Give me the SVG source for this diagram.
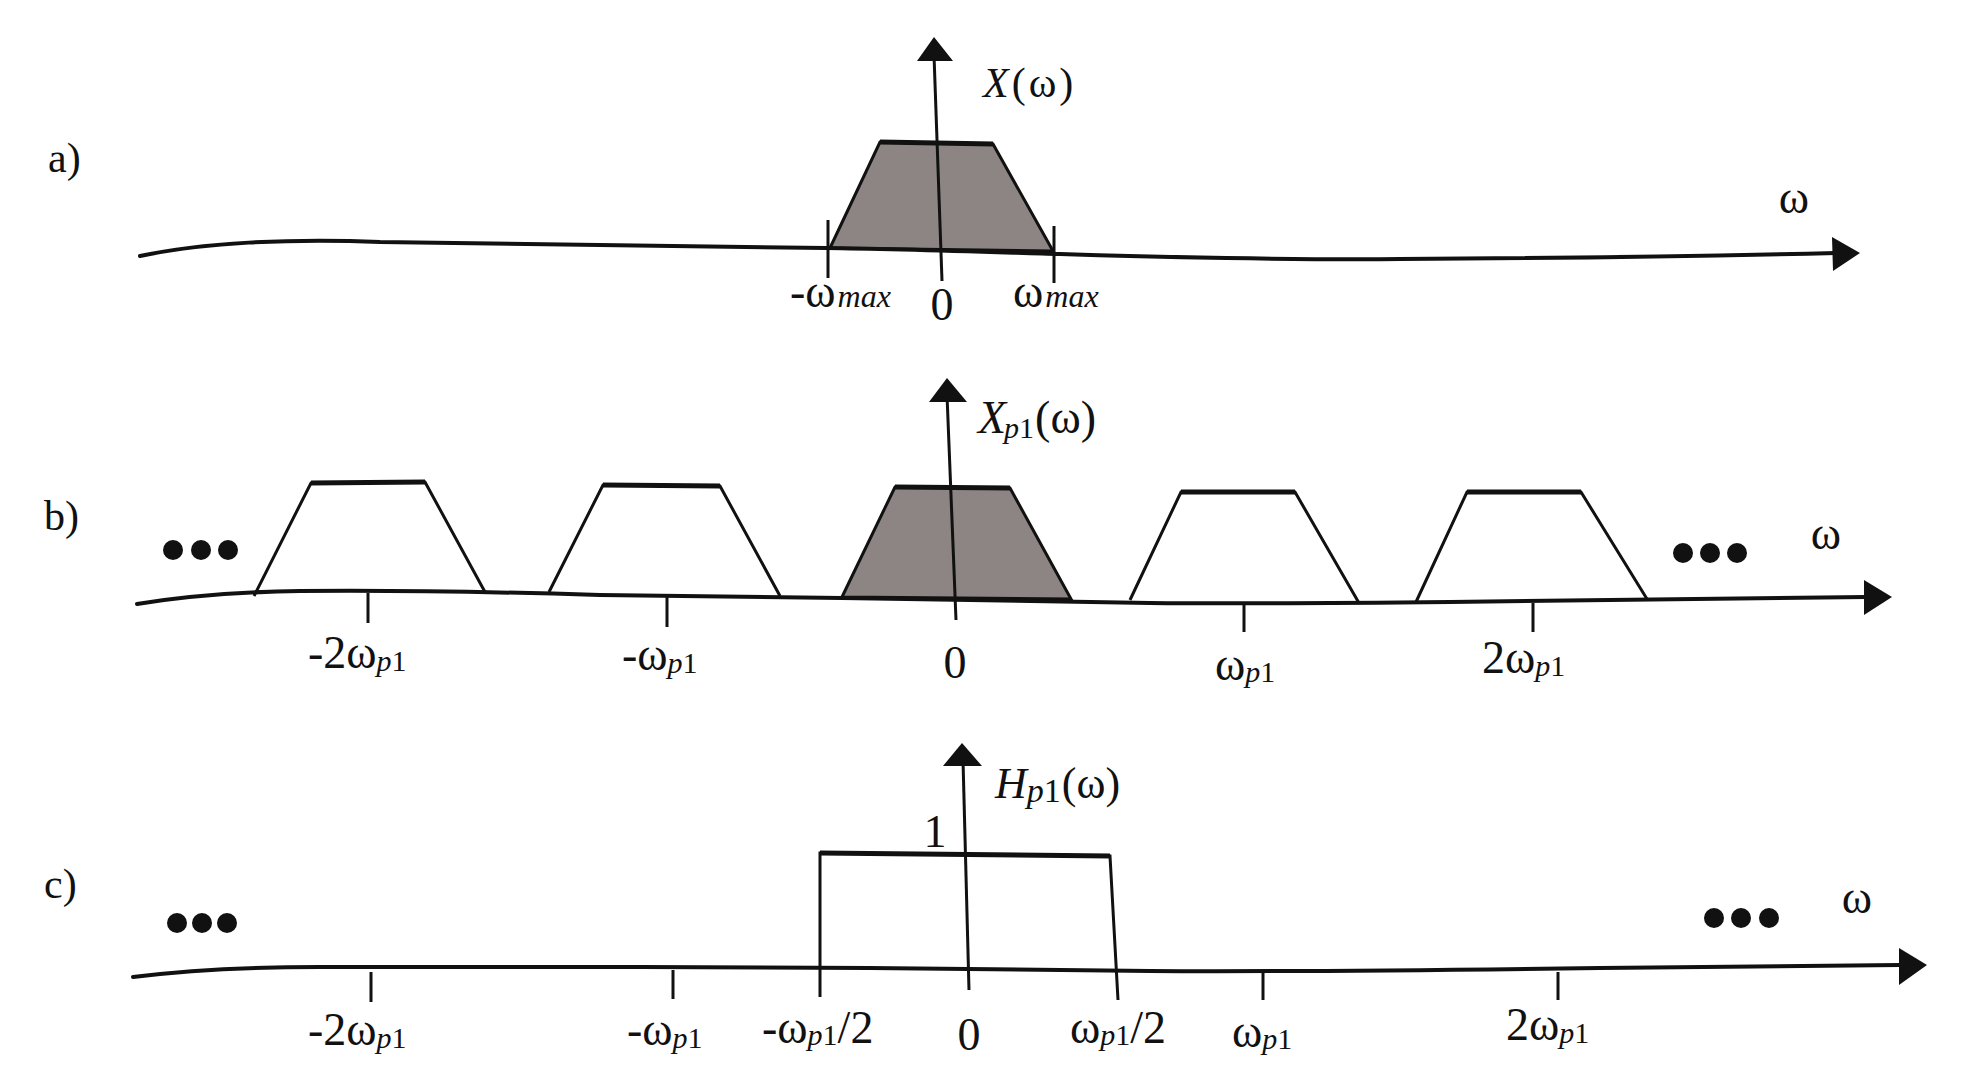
<svg xmlns="http://www.w3.org/2000/svg" width="1988" height="1076" viewBox="0 0 1988 1076">
<style>
  .ax{fill:none;stroke:#111;stroke-width:4;stroke-linecap:round;stroke-linejoin:round}
  .vx{fill:none;stroke:#111;stroke-width:3}
  .tk{fill:none;stroke:#111;stroke-width:3}
  .tr{fill:none;stroke:#111;stroke-width:3;stroke-linejoin:miter}
  .top{fill:none;stroke:#111;stroke-width:5}
  .sh{fill:#8d8583;stroke:#111;stroke-width:3}
  .ah{fill:#111}
  .dot{fill:#111}
  text{font-family:"Liberation Serif","Times New Roman",serif;fill:#111}
  .lb{font-size:46px}
  .pn{font-size:42px}
  .it{font-style:italic}
  .s{font-size:30px}
  .sm{font-size:32px;font-style:italic}
</style>

<!-- ===== Panel a ===== -->
<g id="panel-a">
  <text class="pn" x="48" y="172">a)</text>
  <polygon class="sh" points="830,248 880,142 993,144 1053,251"/>
  <line class="top" x1="880" y1="142" x2="993" y2="144"/>
  <line class="tk" x1="828" y1="220" x2="828" y2="278"/>
  <line class="tk" x1="1054" y1="226" x2="1054" y2="283"/>
  <text x="983" y="97" font-size="42" letter-spacing="3"><tspan class="it">X</tspan>(ω)</text>
  <text class="lb" x="790" y="307">-ω<tspan class="sm" dx="2">max</tspan></text>
  <text class="lb" x="942" y="320" text-anchor="middle">0</text>
  <text class="lb" x="1013" y="307">ω<tspan class="sm" dx="2">max</tspan></text>
  <text class="lb" x="1794" y="213" text-anchor="middle" font-size="40">ω</text>
</g>

<!-- ===== Panel b ===== -->
<g id="panel-b">
  <text class="pn" x="44" y="530">b)</text>
  <polyline class="tr" points="254,596 311,483 425,482 485,592"/>
  <line class="top" x1="311" y1="483" x2="425" y2="482"/>
  <polyline class="tr" points="549,592 603,485 720,486 780,596"/>
  <line class="top" x1="603" y1="485" x2="720" y2="486"/>
  <polygon class="sh" points="842,597 895,487 1010,488 1071,599"/>
  <line class="top" x1="895" y1="487" x2="1010" y2="488"/>
  <polyline class="tr" points="1130,600 1181,492 1295,492 1359,603"/>
  <line class="top" x1="1181" y1="492" x2="1295" y2="492"/>
  <polyline class="tr" points="1416,602 1467,492 1581,492 1647,599"/>
  <line class="top" x1="1467" y1="492" x2="1581" y2="492"/>
  <line class="tk" x1="368" y1="593" x2="368" y2="623"/>
  <line class="tk" x1="667" y1="597" x2="667" y2="627"/>
  <line class="tk" x1="1244" y1="603" x2="1244" y2="632"/>
  <line class="tk" x1="1533" y1="603" x2="1533" y2="632"/>
  <circle class="dot" cx="173" cy="550" r="10"/>
  <circle class="dot" cx="201" cy="550" r="10"/>
  <circle class="dot" cx="228" cy="550" r="10"/>
  <circle class="dot" cx="1683" cy="553" r="10"/>
  <circle class="dot" cx="1710" cy="553" r="10"/>
  <circle class="dot" cx="1737" cy="553" r="10"/>
  <text class="lb" x="978" y="433"><tspan class="it">X</tspan><tspan class="s it" dx="-2" dy="5">p</tspan><tspan class="s">1</tspan><tspan dy="-5" dx="1">(ω)</tspan></text>
  <text class="lb" x="1826" y="549" text-anchor="middle" font-size="40">ω</text>
  <text class="lb" y="668"><tspan x="308">-2ω</tspan><tspan class="s it" dy="3">p</tspan><tspan class="s">1</tspan></text>
  <text class="lb" y="670"><tspan x="622">-ω</tspan><tspan class="s it" dy="3">p</tspan><tspan class="s">1</tspan></text>
  <text class="lb" x="955" y="678" text-anchor="middle">0</text>
  <text class="lb" y="680"><tspan x="1215">ω</tspan><tspan class="s it" dy="2">p</tspan><tspan class="s">1</tspan></text>
  <text class="lb" y="673"><tspan x="1482">2ω</tspan><tspan class="s it" dy="3">p</tspan><tspan class="s">1</tspan></text>
</g>

<!-- ===== Panel c ===== -->
<g id="panel-c">
  <text class="pn" x="44" y="898">c)</text>
  <polyline class="tr" points="820,997 820,853 1110,856 1118,1000"/>
  <line class="top" x1="820" y1="853" x2="1110" y2="856"/>
  <line class="tk" x1="371" y1="972" x2="371" y2="1002"/>
  <line class="tk" x1="673" y1="970" x2="673" y2="999"/>
  <line class="tk" x1="1263" y1="973" x2="1263" y2="1000"/>
  <line class="tk" x1="1558" y1="972" x2="1558" y2="1000"/>
  <circle class="dot" cx="177" cy="923" r="10"/>
  <circle class="dot" cx="202" cy="923" r="10"/>
  <circle class="dot" cx="227" cy="923" r="10"/>
  <circle class="dot" cx="1714" cy="918" r="10"/>
  <circle class="dot" cx="1741" cy="918" r="10"/>
  <circle class="dot" cx="1769" cy="918" r="10"/>
  <text class="lb" x="935" y="847" text-anchor="middle">1</text>
  <text x="995" y="798" font-size="44"><tspan class="it">H</tspan><tspan class="it" font-size="34" dy="4">p</tspan><tspan font-size="34">1</tspan><tspan dy="-4" dx="1">(ω)</tspan></text>
  <text class="lb" x="1857" y="913" text-anchor="middle" font-size="40">ω</text>
  <text class="lb" y="1045"><tspan x="308">-2ω</tspan><tspan class="s it" dy="3">p</tspan><tspan class="s">1</tspan></text>
  <text class="lb" y="1045"><tspan x="627">-ω</tspan><tspan class="s it" dy="3">p</tspan><tspan class="s">1</tspan></text>
  <text class="lb" y="1043"><tspan x="762">-ω</tspan><tspan class="s it" dy="2">p</tspan><tspan class="s">1</tspan><tspan dy="-2">/2</tspan></text>
  <text class="lb" x="969" y="1050" text-anchor="middle">0</text>
  <text class="lb" y="1043"><tspan x="1070">ω</tspan><tspan class="s it" dy="2">p</tspan><tspan class="s">1</tspan><tspan dy="-2">/2</tspan></text>
  <text class="lb" y="1047"><tspan x="1232">ω</tspan><tspan class="s it" dy="2">p</tspan><tspan class="s">1</tspan></text>
  <text class="lb" y="1040"><tspan x="1506">2ω</tspan><tspan class="s it" dy="3">p</tspan><tspan class="s">1</tspan></text>
</g>

<!-- ===== Axes (connectors) ===== -->
<g id="axes">
  <path class="ax" d="M140,256 C200,243 290,238 380,242 L826,248 C900,249 990,252 1060,254 C1150,257 1300,260 1400,259 C1600,258 1750,255 1836,253"/>
  <polygon class="ah" points="1860,253 1832,237 1833,271"/>
  <line class="vx" x1="934" y1="55" x2="942" y2="281"/>
  <polygon class="ah" points="934,37 917,61 953,61"/>

  <path class="ax" d="M137,604 C180,597 230,592 300,591 C400,590 500,592 600,595 L842,598 C950,600 1050,602 1150,603 C1250,604 1350,603 1450,602 C1600,600 1750,598 1866,597"/>
  <polygon class="ah" points="1892,597 1864,580 1864,615"/>
  <line class="vx" x1="947" y1="395" x2="956" y2="620"/>
  <polygon class="ah" points="947,378 929,402 967,402"/>

  <path class="ax" d="M133,977 C190,970 250,967 320,967 L640,967 C800,967 1000,969 1150,971 C1300,972 1450,970 1600,968 C1750,967 1850,965 1900,965"/>
  <polygon class="ah" points="1927,965 1899,948 1899,985"/>
  <line class="vx" x1="963" y1="760" x2="969" y2="990"/>
  <polygon class="ah" points="962,743 943,766 982,766"/>
</g>
</svg>
